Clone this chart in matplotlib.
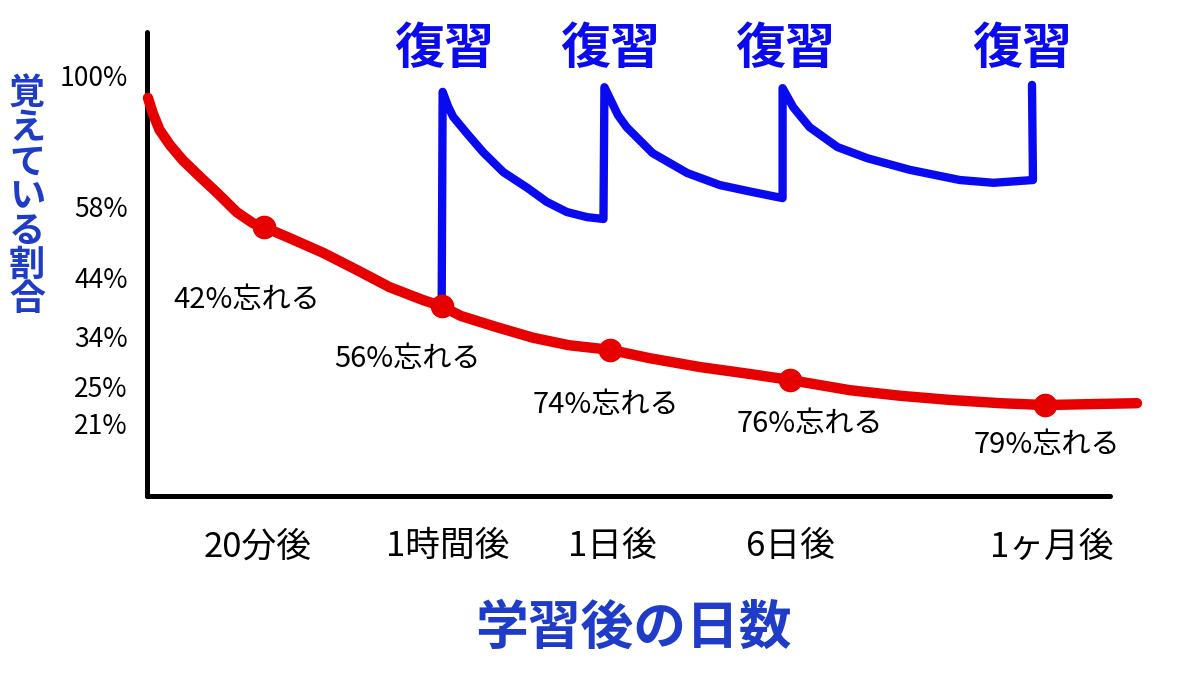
import matplotlib
matplotlib.use("Agg")
import matplotlib.pyplot as plt

plt.rcParams['font.family'] = ['Noto Sans CJK JP', 'DejaVu Sans']

# ---- data (position units: x 0..100 across the axis, y 0..100 up the axis) ----
forget_x = [0.1, 0.6, 1.3, 2.4, 3.7, 5.5, 7.3, 9.3, 11.0, 12.1, 14.8, 18.3, 21.8,
            25.2, 28.7, 30.6, 32.6, 36.3, 40.1, 43.8, 48.1, 52.2, 57.4, 62.6,
            66.8, 73.0, 78.2, 83.4, 88.6, 93.3, 97.9, 102.8]
forget_y = [85.8, 82.5, 78.9, 75.6, 72.4, 68.8, 65.3, 61.2, 58.8, 58.0, 55.6, 52.4, 48.7,
            45.0, 42.2, 40.9, 38.8, 36.4, 34.1, 32.5, 31.5, 29.7, 27.8, 26.3,
            25.0, 22.8, 21.6, 20.7, 20.0, 19.6, 19.8, 20.0]

dot_x = [12.1, 30.6, 48.1, 66.8, 93.3]
dot_y = [58.0, 40.9, 31.5, 25.0, 19.6]

review_x = [30.6, 30.7, 31.3, 31.8, 33.2, 34.9, 37.0, 39.5, 41.5, 43.6, 45.7, 47.4,
            47.5, 47.9, 48.9, 49.8, 52.5, 56.1, 59.5, 62.9, 66.0,
            66.0, 67.1, 68.8, 71.7, 74.8, 79.2, 84.4, 87.9, 92.0, 91.9]
review_y = [40.9, 87.1, 83.8, 81.7, 78.2, 74.1, 69.8, 66.4, 63.4, 61.2, 60.1, 59.7,
            88.1, 86.4, 82.1, 79.5, 73.9, 69.6, 67.0, 65.5, 64.2,
            87.9, 83.8, 79.5, 75.2, 72.8, 70.3, 68.1, 67.5, 68.1, 88.6]

ytick_pos = [90.7, 62.3, 47.0, 34.3, 23.5, 15.7]
ytick_labels = ['100%', '58%', '44%', '34%', '25%', '21%']

xtick_pos = [11.5, 31.2, 48.3, 66.8, 94.0]
xtick_labels = ['20分後', '1時間後', '1日後', '6日後', '1ヶ月後']

forget_labels = ['42%忘れる', '56%忘れる', '74%忘れる', '76%忘れる', '79%忘れる']
forget_label_x = [10.4, 27.0, 47.7, 68.8, 93.5]
forget_label_y = [42.2, 29.6, 19.6, 15.5, 11.0]

review_label = '復習'
review_label_x = [30.9, 48.1, 66.3, 90.9]
review_label_y = 96.3

ylabel_text = '覚えている割合'
xlabel_text = '学習後の日数'

RED = '#E60000'
BLUE = '#0A0AF0'
LABEL_BLUE = '#1E3CC8'

fig = plt.figure(figsize=(12, 6.75), dpi=100)
ax = fig.add_axes([147/1200, (675-496)/675, (1110-147)/1200, (496-32)/675])
ax.set_xlim(0, 100)
ax.set_ylim(0, 100)

for s in ['top', 'right']:
    ax.spines[s].set_visible(False)
for s in ['left', 'bottom']:
    ax.spines[s].set_linewidth(3.6)
    ax.spines[s].set_color('black')
    ax.spines[s].set_capstyle('round')

ax.plot(review_x, review_y, color=BLUE, lw=6, solid_joinstyle='round',
        solid_capstyle='round', clip_on=False, zorder=2)
ax.plot(forget_x, forget_y, color=RED, lw=7.5, solid_joinstyle='round',
        solid_capstyle='round', clip_on=False, zorder=3)
ax.plot(dot_x, dot_y, 'o', color=RED, ms=16, clip_on=False, zorder=4)

ax.set_yticks(ytick_pos)
ax.set_yticklabels(ytick_labels, fontsize=19)
ax.set_xticks(xtick_pos)
ax.set_xticklabels(xtick_labels, fontsize=25)
ax.tick_params(axis='y', length=0, pad=14)
ax.tick_params(axis='x', length=0, pad=24)

for t, x, y in zip(forget_labels, forget_label_x, forget_label_y):
    ax.text(x, y, t, fontsize=21, ha='center', va='center', color='black')

for x in review_label_x:
    ax.text(x, review_label_y, review_label, fontsize=36, fontweight='bold',
            ha='center', va='center', color=BLUE, clip_on=False)

fig.text(27/1200, (675-197)/675, '\n'.join(ylabel_text), fontsize=26,
         fontweight='bold', color=LABEL_BLUE, ha='center', va='center',
         linespacing=0.9)
fig.text(633/1200, (675-628)/675, xlabel_text, fontsize=38, fontweight='bold',
         color=LABEL_BLUE, ha='center', va='center')

fig.savefig('out.png', dpi=100)
